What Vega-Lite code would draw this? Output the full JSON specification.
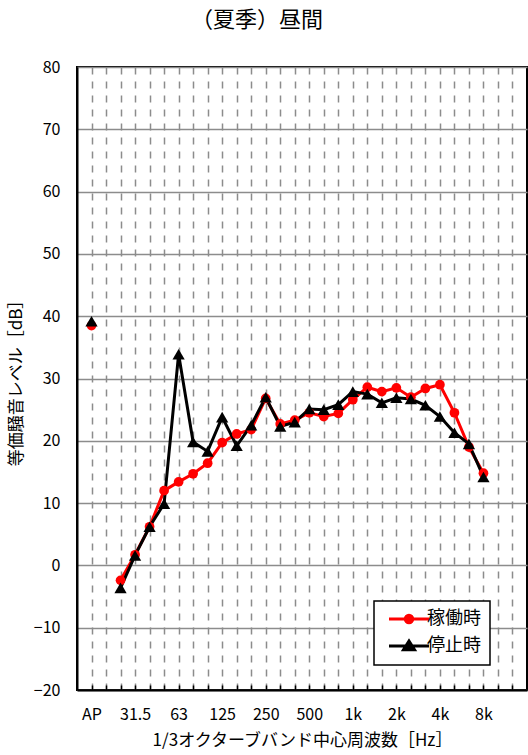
{
  "$schema": "https://vega.github.io/schema/vega-lite/v6.json",
  "autosize": {"type": "none"},
  "padding": {"left": 77, "top": 67, "right": 1, "bottom": 65},
  "width": 450,
  "height": 623,
  "background": "white",
  "title": {
    "text": "（夏季）昼間",
    "font": "Noto Sans CJK JP",
    "fontSize": 22,
    "fontWeight": "normal",
    "color": "black",
    "anchor": "middle",
    "baseline": "bottom",
    "dx": -45,
    "offset": 5
  },
  "config": {
    "view": {"stroke": "black", "strokeWidth": 2},
    "font": "Noto Sans CJK JP"
  },
  "data": {
    "values": [
      {"band": "AP", "series": "稼働時", "value": 38.5},
      {"band": "25", "series": "稼働時", "value": -2.4},
      {"band": "31.5", "series": "稼働時", "value": 1.7},
      {"band": "40", "series": "稼働時", "value": 6.2},
      {"band": "50", "series": "稼働時", "value": 12.0},
      {"band": "63", "series": "稼働時", "value": 13.4},
      {"band": "80", "series": "稼働時", "value": 14.7},
      {"band": "100", "series": "稼働時", "value": 16.4},
      {"band": "125", "series": "稼働時", "value": 19.7},
      {"band": "160", "series": "稼働時", "value": 21.1},
      {"band": "200", "series": "稼働時", "value": 21.8},
      {"band": "250", "series": "稼働時", "value": 26.8},
      {"band": "315", "series": "稼働時", "value": 22.7},
      {"band": "400", "series": "稼働時", "value": 23.3},
      {"band": "500", "series": "稼働時", "value": 24.5},
      {"band": "630", "series": "稼働時", "value": 23.9},
      {"band": "800", "series": "稼働時", "value": 24.4},
      {"band": "1k", "series": "稼働時", "value": 26.6},
      {"band": "1.25k", "series": "稼働時", "value": 28.6},
      {"band": "1.6k", "series": "稼働時", "value": 27.9},
      {"band": "2k", "series": "稼働時", "value": 28.5},
      {"band": "2.5k", "series": "稼働時", "value": 27.0},
      {"band": "3.15k", "series": "稼働時", "value": 28.4},
      {"band": "4k", "series": "稼働時", "value": 29.0},
      {"band": "5k", "series": "稼働時", "value": 24.5},
      {"band": "6.3k", "series": "稼働時", "value": 19.0},
      {"band": "8k", "series": "稼働時", "value": 14.8},
      {"band": "AP", "series": "停止時", "value": 39.2},
      {"band": "25", "series": "停止時", "value": -3.6},
      {"band": "31.5", "series": "停止時", "value": 1.6},
      {"band": "40", "series": "停止時", "value": 6.2},
      {"band": "50", "series": "停止時", "value": 9.9},
      {"band": "63", "series": "停止時", "value": 33.9},
      {"band": "80", "series": "停止時", "value": 19.8},
      {"band": "100", "series": "停止時", "value": 18.3},
      {"band": "125", "series": "停止時", "value": 23.8},
      {"band": "160", "series": "停止時", "value": 19.2},
      {"band": "200", "series": "停止時", "value": 22.5},
      {"band": "250", "series": "停止時", "value": 27.0},
      {"band": "315", "series": "停止時", "value": 22.3},
      {"band": "400", "series": "停止時", "value": 23.0},
      {"band": "500", "series": "停止時", "value": 25.1},
      {"band": "630", "series": "停止時", "value": 25.0},
      {"band": "800", "series": "停止時", "value": 25.8},
      {"band": "1k", "series": "停止時", "value": 27.9},
      {"band": "1.25k", "series": "停止時", "value": 27.5},
      {"band": "1.6k", "series": "停止時", "value": 26.1},
      {"band": "2k", "series": "停止時", "value": 26.9},
      {"band": "2.5k", "series": "停止時", "value": 26.7},
      {"band": "3.15k", "series": "停止時", "value": 25.7},
      {"band": "4k", "series": "停止時", "value": 23.9},
      {"band": "5k", "series": "停止時", "value": 21.3},
      {"band": "6.3k", "series": "停止時", "value": 19.5},
      {"band": "8k", "series": "停止時", "value": 14.2}
    ]
  },
  "encoding": {
    "x": {
      "field": "band",
      "type": "ordinal",
      "sort": null,
      "scale": {
        "type": "point",
        "padding": 1,
        "domain": ["AP", "b1", "25", "31.5", "40", "50", "63", "80", "100", "125", "160", "200", "250", "315", "400", "500", "630", "800", "1k", "1.25k", "1.6k", "2k", "2.5k", "3.15k", "4k", "5k", "6.3k", "8k", "b2", "b3"]
      },
      "axis": {
        "title": "1/3オクターブバンド中心周波数［Hz］",
        "titleFont": "Noto Sans CJK JP",
        "titleFontSize": 17,
        "titleFontWeight": "normal",
        "titleColor": "black",
        "titlePadding": 10,
        "labelExpr": "indexof(['AP','31.5','63','125','250','500','1k','2k','4k','8k'], datum.value) >= 0 ? datum.value : ''",
        "labelFont": "Noto Sans CJK JP",
        "labelFontSize": 16,
        "labelColor": "black",
        "labelAngle": 0,
        "labelOverlap": false,
        "labelPadding": 21,
        "ticks": true,
        "tickSize": -5,
        "tickColor": "black",
        "tickWidth": 1.5,
        "domainColor": "black",
        "domainWidth": 2,
        "grid": true,
        "gridColor": "#8c8c8c",
        "gridWidth": 1.5,
        "gridDash": [7, 7]
      }
    },
    "y": {
      "field": "value",
      "type": "quantitative",
      "scale": {"domain": [-20, 80], "nice": false, "zero": false},
      "axis": {
        "title": "等価騒音レベル［dB］",
        "titleFont": "Noto Sans CJK JP",
        "titleFontSize": 17,
        "titleFontWeight": "normal",
        "titleColor": "black",
        "titlePadding": 8,
        "values": [-20, -10, 0, 10, 20, 30, 40, 50, 60, 70, 80],
        "labelFont": "Noto Sans CJK JP",
        "labelFontSize": 16,
        "labelColor": "black",
        "labelPadding": 17,
        "ticks": false,
        "domainColor": "black",
        "domainWidth": 2,
        "grid": true,
        "gridColor": "#8c8c8c",
        "gridWidth": 1.5
      }
    },
    "color": {
      "field": "series",
      "type": "nominal",
      "scale": {"domain": ["稼働時", "停止時"], "range": ["#ff0000", "#000000"]},
      "legend": {
        "title": null,
        "orient": "none",
        "legendX": 297,
        "legendY": 534,
        "fillColor": "white",
        "strokeColor": "black",
        "padding": 9,
        "rowPadding": 6,
        "labelFont": "Noto Sans CJK JP",
        "labelFontSize": 18,
        "labelColor": "black",
        "symbolSize": 100,
        "symbolStrokeWidth": 3,
        "symbolOffset": 17,
        "labelOffset": 9,
        "encode": {
          "legend": {
            "update": {
              "strokeWidth": {"value": 1.5}
            }
          },
          "symbols": {
            "update": {
              "shape": {"signal": "datum.value === '稼働時' ? 'M-4,0H4M0.75,0A0.75,0.75,0,1,1,-0.75,0A0.75,0.75,0,1,1,0.75,0Z' : 'M-4,0H4M0,-1.0L1.1,0.75L-1.1,0.75Z'"},
              "size": {"value": 100},
              "strokeWidth": {"value": 3},
              "opacity": {"value": 1}
            }
          }
        }
      }
    }
  },
  "layer": [
    {
      "transform": [{"filter": "datum.band !== 'AP'"}],
      "mark": {"type": "line", "strokeWidth": 3}
    },
    {
      "transform": [{"filter": "datum.series === '稼働時'"}],
      "mark": {"type": "point", "filled": true, "opacity": 1, "shape": "circle", "size": 95}
    },
    {
      "transform": [{"filter": "datum.series === '停止時'"}],
      "mark": {"type": "point", "filled": true, "opacity": 1, "shape": "triangle-up", "size": 150}
    }
  ]
}
